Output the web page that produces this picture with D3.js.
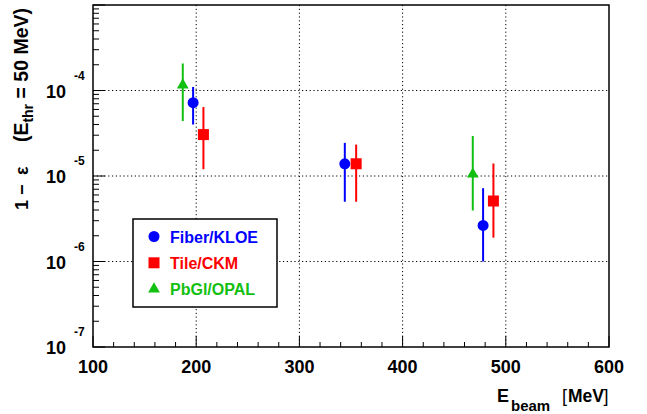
<!DOCTYPE html>
<meta charset="utf-8">
<title>1 - eps vs Ebeam</title>
<style>
  body { margin:0; padding:0; background:#fff; }
  text { font-family: 'Liberation Sans', Arial, Helvetica, sans-serif; font-weight: bold; }
</style>
<body>
<div id="chart"></div>
<script src="https://cdn.jsdelivr.net/npm/d3@7"></script>
<script>

// data
var kloeE  = [197, 344, 478],
    kloeV  = [7.2e-5, 1.39e-5, 2.64e-6],
    kloeLo = [4.0e-5, 5.0e-6, 1.0e-6],
    kloeHi = [1.1e-4, 2.44e-5, 7.2e-6];

var ckmE  = [207, 355, 488],
    ckmV  = [3.05e-5, 1.39e-5, 5.1e-6],
    ckmLo = [1.2e-5, 5.0e-6, 1.9e-6],
    ckmHi = [6.4e-5, 2.33e-5, 1.4e-5];

var opalE  = [187, 468],
    opalV  = [1.16e-4, 1.05e-5],
    opalLo = [4.4e-5, 3.95e-6],
    opalHi = [2.07e-4, 2.94e-5];

var xTicks = [100, 200, 300, 400, 500, 600],
    yDecades = [-7, -6, -5, -4];

var series = [
  {name: 'Fiber/KLOE', color: '#0000ff', shape: 'circle',   e: kloeE, v: kloeV, lo: kloeLo, hi: kloeHi},
  {name: 'Tile/CKM',   color: '#ff0000', shape: 'square',   e: ckmE,  v: ckmV,  lo: ckmLo,  hi: ckmHi},
  {name: 'PbGl/OPAL',  color: '#11c011', shape: 'triangle', e: opalE, v: opalV, lo: opalLo, hi: opalHi}
];

var W = 647, H = 414,
    L = 93, R = 609, T = 5, B = 347;

var svg = d3.select("#chart").append("svg").attr("width", W).attr("height", H);

var x = d3.scaleLinear().domain([100, 600]).range([L, R]),
    y = d3.scaleLog().domain([1e-7, 1e-3]).range([B, T]);

// grid
var grid = svg.append("g").attr("stroke", "#000").attr("stroke-width", 1).attr("stroke-dasharray", "1.2,2.6");
xTicks.slice(1, -1).forEach(function(t) {
  grid.append("line").attr("x1", x(t)).attr("x2", x(t)).attr("y1", T).attr("y2", B);
});
yDecades.slice(1).forEach(function(d) {
  grid.append("line").attr("x1", L).attr("x2", R).attr("y1", y(Math.pow(10, d))).attr("y2", y(Math.pow(10, d)));
});

// ticks
var ticks = svg.append("g").attr("stroke", "#000").attr("stroke-width", 1);
d3.range(100, 601, 20).forEach(function(t) {
  var len = (t % 100 == 0) ? 11 : 5;
  ticks.append("line").attr("x1", x(t)).attr("x2", x(t)).attr("y1", B).attr("y2", B - len);
});
y.ticks().forEach(function(t) {
  var major = Math.abs(Math.log10(t) - Math.round(Math.log10(t))) < 1e-6;
  ticks.append("line").attr("x1", L).attr("x2", L + (major ? 12 : 6)).attr("y1", y(t)).attr("y2", y(t));
});

// frame
svg.append("rect").attr("x", L).attr("y", T).attr("width", R - L).attr("height", B - T)
  .attr("fill", "none").attr("stroke", "#000").attr("stroke-width", 1.5);

// x labels
svg.append("g").selectAll("text").data(xTicks).join("text")
  .attr("x", function(d) { return x(d); })
  .attr("y", 373)
  .attr("text-anchor", "middle")
  .attr("font-size", 18)
  .text(function(d) { return d; });

// y labels 10^n
var yl = svg.append("g").selectAll("g").data(yDecades).join("g");
yl.append("text")
  .attr("x", 66).attr("y", function(d) { return y(Math.pow(10, d)) + 7; })
  .attr("text-anchor", "end").attr("font-size", 18)
  .text("10");
yl.append("text")
  .attr("x", 74).attr("y", function(d) { return y(Math.pow(10, d)) - 11; })
  .attr("font-size", 12)
  .text(function(d) { return d; });

// x title
var xt = svg.append("text").attr("y", 402).attr("font-size", 18);
xt.append("tspan").attr("x", 497).text("E");
xt.append("tspan").attr("x", 511).attr("font-size", 15).attr("dy", 9).text("beam");
xt.append("tspan").attr("x", 562).attr("dy", -9).attr("font-weight", "normal").text("[");
xt.append("tspan").attr("x", 568).attr("font-size", 17.5).text("MeV");
xt.append("tspan").attr("x", 603.5).attr("font-weight", "normal").text("]");

// y title (rotated, u = -y)
var yt = svg.append("g").attr("transform", "translate(28,0) rotate(-90)");
yt.append("text").attr("x", -210).attr("font-size", 18).text("1");
yt.append("text").attr("x", -195).attr("font-size", 18).text("\u2212");
yt.append("text").attr("x", -175).attr("font-size", 18).attr("font-weight", "normal").text("\u03b5");
var yt2 = yt.append("text").attr("x", -8).attr("text-anchor", "end").attr("font-size", 19.5);
yt2.append("tspan").text("(E");
yt2.append("tspan").attr("font-size", 14).attr("dy", 5).text("thr");
yt2.append("tspan").attr("dy", -5).text(" = 50 MeV)");

function marker(g, shape, color, cx, cy) {
  if (shape == 'circle') {
    g.append("circle").attr("cx", cx).attr("cy", cy).attr("r", 5.5).attr("fill", color);
  } else if (shape == 'square') {
    g.append("rect").attr("x", cx - 5.5).attr("y", cy - 5.5).attr("width", 11).attr("height", 11).attr("fill", color);
  } else {
    g.append("path").attr("transform", "translate(" + cx + "," + cy + ")")
      .attr("d", d3.symbol(d3.symbolTriangle).size(60)()).attr("fill", color);
  }
}

// points with error bars
series.forEach(function(s) {
  var g = svg.append("g");
  s.e.forEach(function(e, i) {
    g.append("line")
      .attr("x1", x(e)).attr("x2", x(e))
      .attr("y1", y(s.lo[i])).attr("y2", y(s.hi[i]))
      .attr("stroke", s.color).attr("stroke-width", 2);
    marker(g, s.shape, s.color, x(e), y(s.v[i]));
  });
});

// legend
var lg = svg.append("g");
lg.append("rect").attr("x", 133).attr("y", 219).attr("width", 144).attr("height", 88)
  .attr("fill", "#fff").attr("stroke", "#000").attr("stroke-width", 1.5);
series.forEach(function(s, i) {
  var cy = 236.5 + i * 26.3;
  marker(lg, s.shape, s.color, 154, cy);
  lg.append("text").attr("x", 170).attr("y", cy + 6).attr("font-size", 16)
    .attr("fill", s.color).text(s.name);
});

</script>
</body>
